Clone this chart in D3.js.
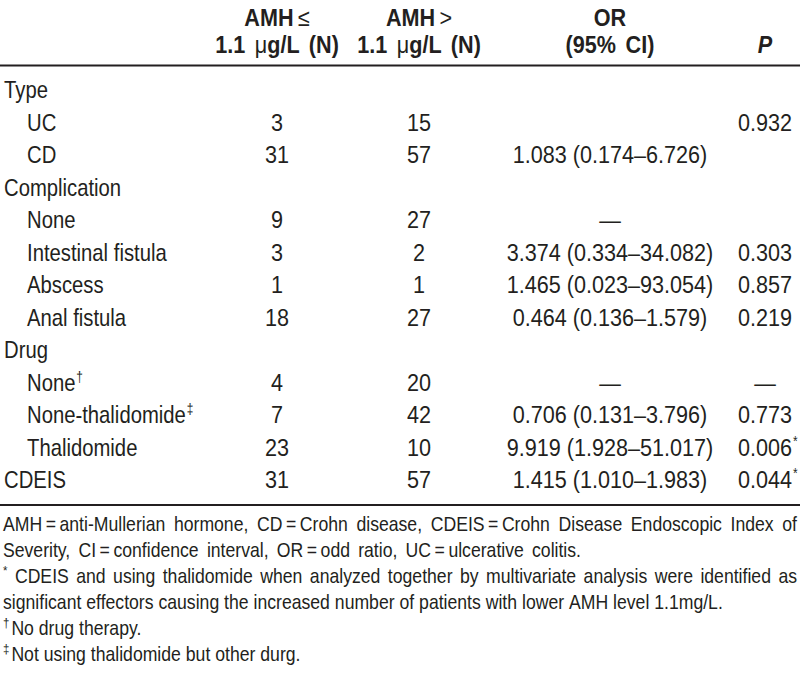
<!DOCTYPE html>
<html><head><meta charset="utf-8">
<script src="https://cdn.jsdelivr.net/npm/d3@7"></script>
<style>
html,body{margin:0;padding:0;background:#fff;}
svg{display:block;}
text{font-family:"Liberation Sans",Arial,sans-serif;fill:#231f20;}
</style></head>
<body>
<script>
// ---- data ----
const rowLabels = ["Type","UC","CD","Complication","None","Intestinal fistula","Abscess","Anal fistula","Drug","None","None-thalidomide","Thalidomide","CDEIS"];
const rowIndent = [0,1,1,0,1,1,1,1,0,1,1,1,0];
const labelMarks = ["","","","","","","","","","†","‡","",""];
const lowAMH  = [null,3,31,null,9,3,1,18,null,4,7,23,31];
const highAMH = [null,15,57,null,27,2,1,27,null,20,42,10,57];
const orCI = ["","","1.083 (0.174–6.726)","","—","3.374 (0.334–34.082)","1.465 (0.023–93.054)","0.464 (0.136–1.579)","","—","0.706 (0.131–3.796)","9.919 (1.928–51.017)","1.415 (1.010–1.983)"];
const pValues = ["","0.932","","","","0.303","0.857","0.219","","—","0.773","0.006","0.044"];
const pMarks  = ["","","","","","","","","","","","*","*"];
const headerLine1 = [{key:"low",parts:[["AMH",true],["\u2009≤",false]]},{key:"high",parts:[["AMH",true],["\u2009>",false]]},{key:"or",parts:[["OR",true]]},{key:"p",parts:[]}];
const headerLine2 = [{key:"low",parts:[["1.1 ",true],["μ",false],["g/L (N)",true]]},{key:"high",parts:[["1.1 ",true],["μ",false],["g/L (N)",true]]},{key:"or",parts:[["(95% CI)",true]]},{key:"p",parts:[["P",true,true]]}];
const noteMarks = ["", "", "*", "", "†", "‡"];
const noteTexts = [
  "AMH\u2009=\u2009anti-Mullerian hormone, CD\u2009=\u2009Crohn disease, CDEIS\u2009=\u2009Crohn Disease Endoscopic Index of",
  "Severity, CI\u2009=\u2009confidence interval, OR\u2009=\u2009odd ratio, UC\u2009=\u2009ulcerative colitis.",
  "CDEIS and using thalidomide when analyzed together by multivariate analysis were identified as",
  "significant effectors causing the increased number of patients with lower AMH level 1.1mg/L.",
  "No drug therapy.",
  "Not using thalidomide but other durg."
];

// ---- layout ----
const W = 800, H = 690;
const SX = 0.845;   // condensed look for labels
const SXN = 0.9;    // numbers / header
const svg = d3.select("body").append("svg").attr("width", W).attr("height", H);
const x = d3.scaleOrdinal().domain(["low","high","or","p"]).range([277, 419, 610, 765]);
const y = d3.scaleLinear().domain([0, rowLabels.length - 1]).range([98, 488]);
const FS = 24, NFS = 20;
// line end positions of the footnote lines (null = natural spacing)
const noteEnds = [797, 581, 797, null, null, null];

function txt(px, py, size, anchor, sx){
  return svg.append("text")
    .attr("transform", `translate(${px},${py}) scale(${sx || SX},1)`)
    .attr("font-size", size).attr("text-anchor", anchor || "start");
}

// header
function drawHeader(line, yy){
  line.forEach(h => {
    const t = txt(x(h.key), yy, FS, "middle", SXN).attr("word-spacing", 4);
    h.parts.forEach(p => t.append("tspan").text(p[0]).attr("font-weight", p[1] ? "bold" : "normal").attr("font-style", p[2] ? "italic" : "normal"));
  });
}
drawHeader(headerLine1, 26);
drawHeader(headerLine2, 53);

svg.append("line").attr("x1",0).attr("x2",W).attr("y1",65.5).attr("y2",65.5).attr("stroke","#231f20").attr("stroke-width",2);
svg.append("line").attr("x1",0).attr("x2",W).attr("y1",505).attr("y2",505).attr("stroke","#231f20").attr("stroke-width",2);

// rows
const idx = d3.range(rowLabels.length);
idx.forEach(i => {
  const t = txt(rowIndent[i] ? 27 : 4, y(i), FS);
  t.append("tspan").text(rowLabels[i]);
  if (labelMarks[i]) t.append("tspan").text(labelMarks[i]).attr("font-size", 14).attr("dy", -9).attr("dx", 1);
  if (lowAMH[i] !== null) txt(x("low"), y(i), FS, "middle", SXN).text(lowAMH[i]);
  if (highAMH[i] !== null) txt(x("high"), y(i), FS, "middle", SXN).text(highAMH[i]);
  if (orCI[i]) txt(x("or"), y(i), FS, "middle", SXN).text(orCI[i]);
  if (pValues[i]) {
    const p = txt(x("p"), y(i), FS, "middle", SXN).text(pValues[i]);
    if (pMarks[i]) {
      const w = p.node().getComputedTextLength() * SXN;
      txt(x("p") + w / 2 + 1, y(i) - 10, 14).text(pMarks[i]);
    }
  }
});

// notes: condensation fitted so that the 4th (unjustified) line ends where the reference's does
const probe = svg.append("text").attr("font-size", NFS).text(noteTexts[3]);
const SXF = 719 / probe.node().getComputedTextLength();
probe.remove();
const sp1 = svg.append("text").attr("font-size", NFS).text("a a"), sp2 = svg.append("text").attr("font-size", NFS).text("aa");
const spaceW = (sp1.node().getComputedTextLength() - sp2.node().getComputedTextLength()) * SXF;
sp1.remove(); sp2.remove();
const noteY = d3.scaleLinear().domain([0, noteTexts.length - 1]).range([531, 661]);
noteTexts.forEach((text, k) => {
  const yy = noteY(k);
  const items = [];
  if (noteMarks[k]) items.push({t:noteMarks[k], sup:true});
  text.split(" ").forEach(w => items.push({t:w, sup:false}));
  const els = [], widths = [];
  items.forEach(it => {
    const e = txt(0, 0, it.sup ? 13 : NFS, "start", SXF).text(it.t);
    els.push(e);
    widths.push(e.node().getComputedTextLength() * SXF);
  });
  const end = noteEnds[k];
  const gap = end ? (end - 3 - d3.sum(widths)) / (items.length - 1) : spaceW;
  let cx = 3;
  items.forEach((it, j) => {
    els[j].attr("transform", `translate(${cx},${it.sup ? yy - 8 : yy}) scale(${SXF},1)`);
    cx += widths[j] + ((it.sup && !end) ? 2 : gap);
  });
});
</script>
</body></html>
